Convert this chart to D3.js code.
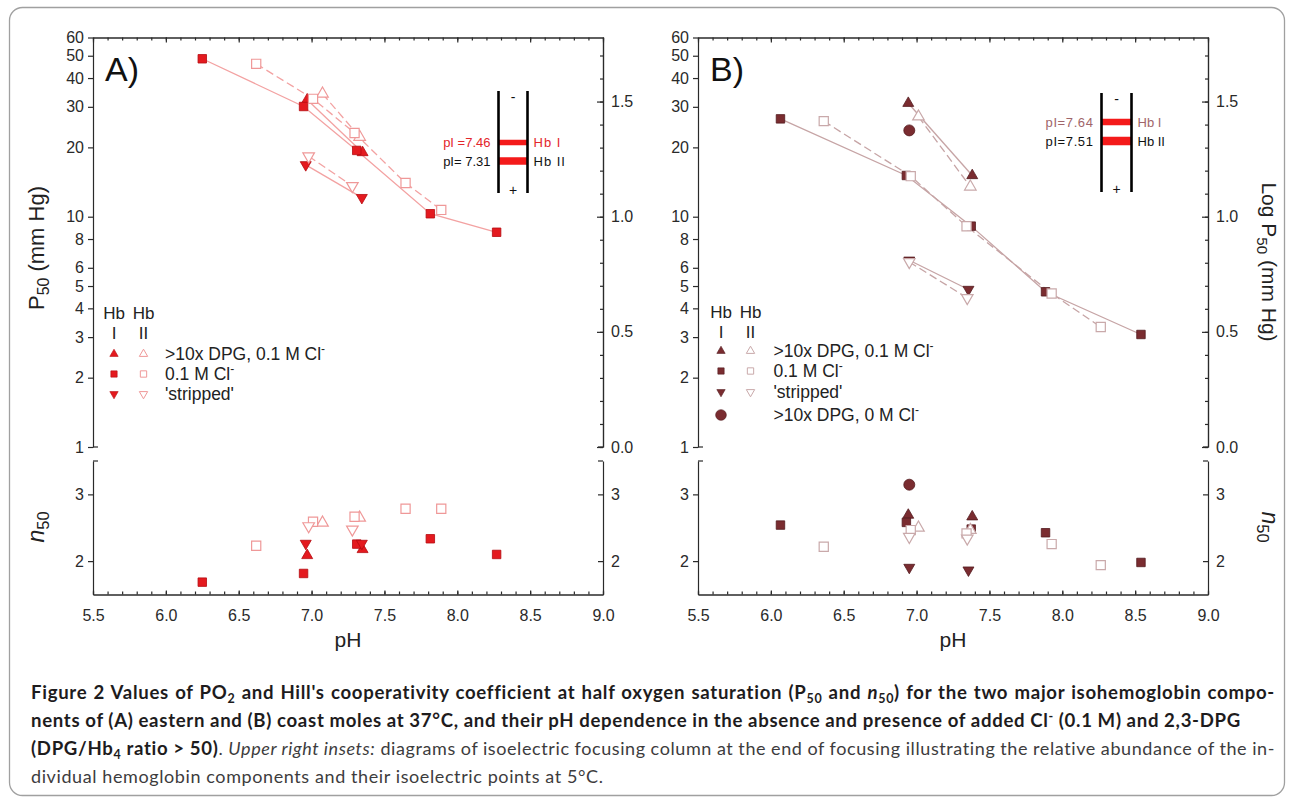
<!DOCTYPE html>
<html><head><meta charset="utf-8">
<script src="https://cdn.jsdelivr.net/npm/d3@7"></script>
<style>html,body{margin:0;padding:0;background:#fff;} svg{display:block}</style>
</head><body>
<svg id="c" width="1292" height="802"></svg>
<script>
// ---------------- data ----------------
const pHTicks  = [5.5, 6.0, 6.5, 7.0, 7.5, 8.0, 8.5, 9.0];
const p50Ticks = [1, 2, 3, 4, 5, 6, 8, 10, 20, 30, 40, 50, 60];
const logTicks = [0.0, 0.5, 1.0, 1.5];
const n50Ticks = [2, 3];

// Panel A (eastern mole)
const A_I_dpg_pH  = [6.97, 7.35];
const A_I_dpg_p50 = [32.2, 19.0];
const A_I_dpg_n50 = [2.085, 2.175];
const A_II_dpg_pH  = [7.075, 7.33];
const A_II_dpg_p50 = [34.2, 22.2];
const A_II_dpg_n50 = [2.575, 2.65];
const A_I_cl_pH  = [6.25, 6.945, 7.31, 7.815, 8.27];
const A_I_cl_p50 = [48.5, 30.1, 19.4, 10.3, 8.56];
const A_I_cl_n50 = [1.685, 1.815, 2.255, 2.335, 2.10];
const A_II_cl_pH  = [6.62, 7.01, 7.295, 7.645, 7.89];
const A_II_cl_p50 = [46.1, 32.5, 23.1, 14.0, 10.7];
const A_II_cl_n50 = [2.23, 2.59, 2.665, 2.785, 2.785];
const A_I_str_pH  = [6.96, 7.345];
const A_I_str_p50 = [16.8, 12.1];
const A_I_str_n50 = [2.265, 2.265];
const A_II_str_pH  = [6.98, 7.28];
const A_II_str_p50 = [18.3, 13.6];
const A_II_str_n50 = [2.525, 2.475];

// Panel B (coast mole)
const B_I_dpg_pH  = [6.943, 7.382];
const B_I_dpg_p50 = [31.1, 15.1];
const B_I_dpg_n50 = [2.69, 2.665];
const B_II_dpg_pH  = [7.013, 7.369];
const B_II_dpg_p50 = [27.2, 13.5];
const B_II_dpg_n50 = [2.50, 2.465];
const B_I_cl_pH  = [6.066, 6.93, 7.375, 7.885, 8.54];
const B_I_cl_p50 = [26.6, 15.1, 9.1, 4.72, 3.08];
const B_I_cl_n50 = [2.54, 2.58, 2.48, 2.425, 1.98];
const B_II_cl_pH  = [6.363, 6.96, 7.343, 7.927, 8.264];
const B_II_cl_p50 = [26.0, 15.0, 9.09, 4.64, 3.32];
const B_II_cl_n50 = [2.215, 2.465, 2.415, 2.255, 1.94];
const B_I_str_pH  = [6.95, 7.356];
const B_I_str_p50 = [6.47, 4.83];
const B_I_str_n50 = [1.905, 1.865];
const B_II_str_pH  = [6.95, 7.348];
const B_II_str_p50 = [6.36, 4.44];
const B_II_str_n50 = [2.365, 2.34];
const B_I_dpg0_pH  = [6.95];
const B_I_dpg0_p50 = [23.7];
const B_I_dpg0_n50 = [3.145];

// legend texts
const legendTextsA = [">10x DPG, 0.1 M Cl", "0.1 M Cl", "'stripped'"];
const legendSupA   = ["-", "-", ""];
const legendTextsB = [">10x DPG, 0.1 M Cl", "0.1 M Cl", "'stripped'", ">10x DPG, 0 M Cl"];
const legendSupB   = ["-", "-", "", "-"];
const legendSymA = ["tri", "sq", "inv"];
const legendSymB = ["tri", "sq", "inv", "circ"];

// inset texts (isoelectric points)
const insetA_pI = ["pI =7.46", "pI= 7.31"];
const insetB_pI = ["pI=7.64", "pI=7.51"];
const insetHb   = ["Hb I", "Hb II"];

// ---------------- build ----------------
const mk = (pH, p50, n50, hb, sym) => ({pH, p50, n50, hb, sym});
const seriesA = [
  mk(A_I_dpg_pH, A_I_dpg_p50, A_I_dpg_n50, "I", "tri"),
  mk(A_II_dpg_pH, A_II_dpg_p50, A_II_dpg_n50, "II", "tri"),
  mk(A_I_cl_pH, A_I_cl_p50, A_I_cl_n50, "I", "sq"),
  mk(A_II_cl_pH, A_II_cl_p50, A_II_cl_n50, "II", "sq"),
  mk(A_I_str_pH, A_I_str_p50, A_I_str_n50, "I", "inv"),
  mk(A_II_str_pH, A_II_str_p50, A_II_str_n50, "II", "inv")
];
const seriesB = [
  mk(B_I_dpg_pH, B_I_dpg_p50, B_I_dpg_n50, "I", "tri"),
  mk(B_II_dpg_pH, B_II_dpg_p50, B_II_dpg_n50, "II", "tri"),
  mk(B_I_cl_pH, B_I_cl_p50, B_I_cl_n50, "I", "sq"),
  mk(B_II_cl_pH, B_II_cl_p50, B_II_cl_n50, "II", "sq"),
  mk(B_I_str_pH, B_I_str_p50, B_I_str_n50, "I", "inv"),
  mk(B_II_str_pH, B_II_str_p50, B_II_str_n50, "II", "inv"),
  mk(B_I_dpg0_pH, B_I_dpg0_p50, B_I_dpg0_n50, "I", "circ")
];

const FONT = "'Liberation Sans', Arial, Helvetica, sans-serif";
const COL = {
  A: {fill:"#e41a1f", edge:"#b50b10", line:"#f3a2a2", open:"#ef9898", pi:"#e3262b"},
  B: {fill:"#7a2c30", edge:"#531b1e", line:"#c6a4a5", open:"#c9a9aa", pi:"#a0656a"}
};

const svg = d3.select("#c");
svg.append("rect").attr("x", 9.5).attr("y", 7.5).attr("width", 1275).attr("height", 788)
  .attr("rx", 13).attr("fill", "none").attr("stroke", "#a0a0a0").attr("stroke-width", 1.3);

const yP  = d3.scaleLog().domain([1, 60]).range([447, 37.5]);
const yLg = d3.scaleLinear().domain([0, Math.log10(60)]).range([447, 37.5]);
const yN  = d3.scaleLinear().domain([1.5, 3.5]).range([594.5, 461]);

function symPath(type, size) {
  const t = {tri: d3.symbolTriangle, inv: d3.symbolTriangle, sq: d3.symbolSquare, circ: d3.symbolCircle}[type];
  return d3.symbol(t, size)();
}
function addSym(g, type, size, cx, cy, fill, stroke, sw) {
  g.append("path").attr("d", symPath(type, size))
    .attr("transform", `translate(${cx},${cy})` + (type === "inv" ? " rotate(180)" : ""))
    .attr("fill", fill).attr("stroke", stroke).attr("stroke-width", sw);
}
const SIZE_F = {tri: 52, inv: 52, sq: 72, circ: 95};
const SIZE_O = {tri: 58, inv: 58, sq: 84, circ: 95};

function styleAxis(sel) {
  sel.attr("font-size", 16).attr("font-family", FONT).attr("color", "#2a2a2a");
  sel.selectAll("path,line").attr("stroke-width", 1.2);
}

function drawPanel(p) {
  const x = d3.scaleLinear().domain([5.5, 9]).range([p.x0, p.x1]);
  const col = COL[p.id];
  const g = svg.append("g");
  const minor = d3.range(55, 91).map(v => v / 10);
  const minorLog = d3.range(0, 18).map(v => v / 10);

  // upper panel axes
  g.append("g").attr("transform", `translate(${p.x0},0)`)
    .call(d3.axisLeft(yP).tickValues(p50Ticks).tickFormat(d3.format("d")).tickSize(5).tickSizeOuter(0).tickPadding(4))
    .call(styleAxis);
  g.append("g").attr("transform", `translate(${p.x1},0)`)
    .call(d3.axisRight(yLg).tickValues(logTicks).tickFormat(d3.format(".1f")).tickSize(-6).tickSizeOuter(0).tickPadding(8))
    .call(styleAxis);
  g.append("g").attr("transform", `translate(${p.x1},0)`)
    .call(d3.axisRight(yLg).tickValues(minorLog).tickFormat("").tickSize(-3).tickSizeOuter(0))
    .call(styleAxis);
  g.append("g").attr("transform", `translate(0,37.5)`)
    .call(d3.axisTop(x).tickValues(minor).tickFormat("").tickSize(-3).tickSizeOuter(0))
    .call(styleAxis);
  g.append("g").attr("transform", `translate(0,37.5)`)
    .call(d3.axisTop(x).tickValues(pHTicks).tickFormat("").tickSize(-5).tickSizeOuter(0))
    .call(styleAxis);

  // lower panel axes
  g.append("g").attr("transform", `translate(${p.x0},0)`)
    .call(d3.axisLeft(yN).tickValues(n50Ticks).tickFormat(d3.format("d")).tickSize(5).tickSizeOuter(0).tickPadding(4))
    .call(styleAxis);
  g.append("g").attr("transform", `translate(${p.x1},0)`)
    .call(d3.axisRight(yN).tickValues(n50Ticks).tickFormat(d3.format("d")).tickSize(-5).tickSizeOuter(0).tickPadding(8))
    .call(styleAxis);
  g.append("g").attr("transform", `translate(0,594.5)`)
    .call(d3.axisBottom(x).tickValues(pHTicks).tickFormat(d3.format(".1f")).tickSize(-4).tickSizeOuter(0).tickPadding(15))
    .call(styleAxis);
  g.append("g").attr("transform", `translate(0,594.5)`)
    .call(d3.axisBottom(x).tickValues(minor).tickFormat("").tickSize(-3).tickSizeOuter(0))
    .call(styleAxis);

  // hooks at the ends of the axes
  [447, 461].forEach(yy => {
    g.append("line").attr("x1", p.x0).attr("x2", p.x0 + 5).attr("y1", yy).attr("y2", yy).attr("stroke", "#2a2a2a").attr("stroke-width", 1.2);
    g.append("line").attr("x1", p.x1 - 5).attr("x2", p.x1).attr("y1", yy).attr("y2", yy).attr("stroke", "#2a2a2a").attr("stroke-width", 1.2);
  });

  // connecting lines
  const line = d3.line().x(d => x(d[0])).y(d => yP(d[1]));
  p.series.forEach(s => {
    if (s.pH.length > 1) {
      g.append("path").datum(d3.zip(s.pH, s.p50)).attr("d", line)
        .attr("fill", "none").attr("stroke", col.line).attr("stroke-width", 1.3)
        .attr("stroke-dasharray", s.hb === "II" ? "8,4" : null);
    }
  });

  // markers (filled first, open on top)
  const ordered = [...p.series.filter(s => s.hb === "I"), ...p.series.filter(s => s.hb === "II")];
  ordered.forEach(s => {
    s.pH.forEach((ph, i) => {
      const filled = s.hb === "I";
      const size = filled ? SIZE_F[s.sym] : SIZE_O[s.sym];
      const f = filled ? col.fill : "#fff";
      const st = filled ? col.edge : col.open;
      const sw = filled ? 0.8 : 1.2;
      addSym(g, s.sym, size, x(ph), yP(s.p50[i]), f, st, sw);
      addSym(g, s.sym, size, x(ph), yN(s.n50[i]), f, st, sw);
    });
  });

  // panel letter
  g.append("text").attr("x", p.x0 + 12).attr("y", 81).attr("font-family", FONT).attr("font-size", 34)
    .attr("fill", "#111").text(p.id + ")");

  // pH label
  g.append("text").attr("x", (p.x0 + p.x1) / 2).attr("y", 647).attr("text-anchor", "middle")
    .attr("font-family", FONT).attr("font-size", 21).attr("fill", "#222").text("pH");

  // legend
  const lg = g.append("g").attr("font-family", FONT).attr("fill", "#222");
  const cI = p.x0 + p.legI, cII = p.x0 + p.legII, tx = p.x0 + p.legT;
  lg.append("text").attr("x", cI).attr("y", p.legHead).attr("text-anchor", "middle").attr("font-size", 17).text("Hb");
  lg.append("text").attr("x", cII).attr("y", p.legHead).attr("text-anchor", "middle").attr("font-size", 17).text("Hb");
  lg.append("text").attr("x", cI).attr("y", p.legHead + 20).attr("text-anchor", "middle").attr("font-size", 17).text("I");
  lg.append("text").attr("x", cII).attr("y", p.legHead + 20).attr("text-anchor", "middle").attr("font-size", 17).text("II");
  p.legTexts.forEach((t, i) => {
    const yy = p.legRows[i];
    const type = p.legSym[i];
    addSym(lg, type, type === "circ" ? 90 : (type === "sq" ? 40 : 30), cI, yy, col.fill, col.edge, 0.6);
    if (type !== "circ") addSym(lg, type, type === "sq" ? 40 : 30, cII, yy, "#fff", col.open, 1);
    const tt = lg.append("text").attr("x", tx).attr("y", yy + 6).attr("font-size", 17.5);
    tt.append("tspan").text(t);
    if (p.legSup[i]) tt.append("tspan").attr("dy", -7).attr("font-size", 12).text(p.legSup[i]);
  });

  // inset: isoelectric focusing column
  const ins = g.append("g").attr("font-family", FONT);
  const L = p.inset.x1, R = p.inset.x2, mid = (L + R) / 2;
  p.inset.bands.forEach((b, i) => {
    ins.append("rect").attr("x", L).attr("width", R - L).attr("y", b[0] - b[1] / 2).attr("height", b[1]).attr("fill", "#f41a1a");
    ins.append("text").attr("x", L - 8).attr("y", b[0] + 4.5).attr("text-anchor", "end").attr("font-size", 13)
      .attr("fill", i === 0 ? col.pi : "#111").attr("letter-spacing", p.id === "B" ? 0.6 : 0).text(p.pI[i]);
    ins.append("text").attr("x", R + 6).attr("y", b[0] + 4.5).attr("font-size", 13)
      .attr("letter-spacing", p.id === "A" ? 1 : 0)
      .attr("fill", i === 0 ? col.pi : "#111").text(insetHb[i]);
  });
  [L, R].forEach(xx => ins.append("line").attr("x1", xx).attr("x2", xx).attr("y1", p.inset.y1).attr("y2", p.inset.y2)
    .attr("stroke", "#000").attr("stroke-width", 2.6));
  ins.append("text").attr("x", mid).attr("y", p.inset.y1 + 11).attr("text-anchor", "middle").attr("font-size", 14).attr("fill", "#111").text("-");
  ins.append("text").attr("x", mid).attr("y", p.inset.y2 + 2).attr("text-anchor", "middle").attr("font-size", 14).attr("fill", "#111").text("+");
}

drawPanel({id: "A", x0: 93, x1: 603, series: seriesA,
  legI: 21, legII: 50.5, legT: 72, legHead: 319, legRows: [354, 374, 394],
  legTexts: legendTextsA, legSup: legendSupA, legSym: legendSymA, pI: insetA_pI,
  inset: {x1: 498.5, x2: 527.5, y1: 91, y2: 193, bands: [[142.5, 5.5], [161, 7.5]]}});
drawPanel({id: "B", x0: 698, x1: 1208, series: seriesB,
  legI: 23, legII: 52.5, legT: 75.5, legHead: 318, legRows: [351, 371, 392, 415],
  legTexts: legendTextsB, legSup: legendSupB, legSym: legendSymB, pI: insetB_pI,
  inset: {x1: 1101.5, x2: 1131.5, y1: 93, y2: 192, bands: [[122, 6.5], [141, 8.5]]}});

// axis titles
function title(x, y, rot, parts, size) {
  const t = svg.append("text").attr("transform", `translate(${x},${y}) rotate(${rot})`)
    .attr("text-anchor", "middle").attr("font-family", FONT).attr("font-size", size).attr("fill", "#222");
  let shift = 0;
  parts.forEach(pt => {
    const ts = t.append("tspan").text(pt.t);
    const want = pt.sub ? 5 : 0;
    if (want !== shift) { ts.attr("dy", want - shift); shift = want; }
    if (pt.sub) ts.attr("font-size", size * 0.72);
    if (pt.it) ts.attr("font-style", "italic");
  });
}
title(44, 248, -90, [{t: "P"}, {t: "50", sub: true}, {t: " (mm Hg)"}], 22);
title(44, 527, -90, [{t: "n", it: true}, {t: "50", sub: true}], 23);
title(1262, 262, 90, [{t: "Log P"}, {t: "50", sub: true}, {t: " (mm Hg)"}], 21);
title(1262, 527, 90, [{t: "n", it: true}, {t: "50", sub: true}], 23);

// ---------------- caption ----------------
const capLine1 = [["Figure 2 Values of PO", "b"], ["2", "bs"], [" and Hill's cooperativity coefficient at half oxygen saturation (P", "b"], ["50", "bs"], [" and ", "b"], ["n", "bi"], ["50", "bs"], [") for the two major isohemoglobin compo-", "b"]];
const capLine2 = [["nents of (A) eastern and (B) coast moles at 37°C, and their pH dependence in the absence and presence of added Cl", "b"], ["-", "bu"], [" (0.1 M) and 2,3-DPG", "b"]];
const capLine3 = [["(DPG/Hb", "b"], ["4", "bs"], [" ratio > 50)", "b"], [". ", "n"], ["Upper right insets:", "i"], [" diagrams of isoelectric focusing column at the end of focusing illustrating the relative abundance of the in-", "n"]];
const capLine4 = [["dividual hemoglobin components and their isoelectric points at 5°C.", "n"]];
const capLines = [capLine1, capLine2, capLine3, capLine4];
const capWidths = [1244, 1210, 1244, 0];
const capBase = [699, 727, 755, 783];

capLines.forEach((segs, li) => {
  const t = svg.append("text").attr("x", 31).attr("y", capBase[li])
    .attr("font-family", "Lato, 'Open Sans', sans-serif").attr("font-size", 18);
  let shift = 0;
  segs.forEach(([txt, st]) => {
    const ts = t.append("tspan").text(txt);
    const want = st.includes("s") ? 4 : (st.includes("u") ? -6 : 0);
    if (want !== shift) { ts.attr("dy", want - shift); shift = want; }
    const small = st.includes("s") || st.includes("u");
    if (st.includes("b")) ts.attr("font-weight", "bold").attr("fill", "#1e1c1d").attr("font-size", small ? 12.5 : 18.6).attr("letter-spacing", 0.7);
    else ts.attr("fill", "#3d3c3d").attr("letter-spacing", 0.6);
    if (st.includes("i")) ts.attr("font-style", "italic");
  });
  if (capWidths[li] > 0) {
    const nat = t.node().getComputedTextLength();
    const spaces = segs.map(s => s[0]).join("").split(" ").length - 1;
    t.attr("word-spacing", (capWidths[li] - nat) / spaces);
  }
});
</script>
</body></html>
